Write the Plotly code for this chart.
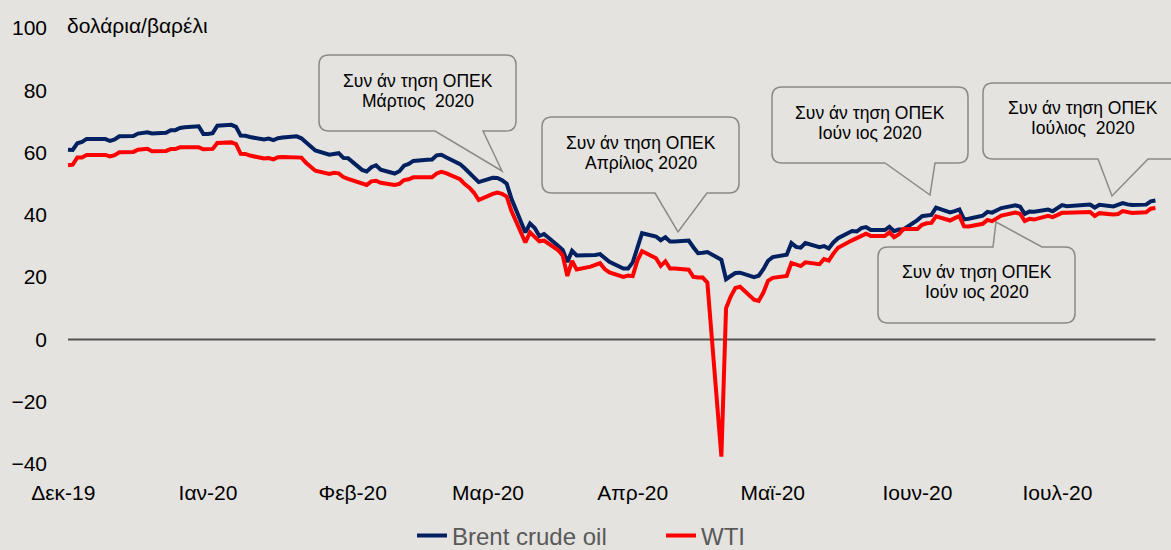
import pandas as pd
import plotly.graph_objects as go

# ---------------- data ----------------
dates = pd.bdate_range("2019-12-02", "2020-07-22")

brent = [
    # Dec 2019
    60.92, 60.82, 62.96, 63.39, 64.39, 64.25, 64.34, 63.72, 64.20, 65.22,
    65.34, 66.10, 66.17, 66.54, 66.14, 66.39, 67.20, 67.20, 67.92, 68.16,
    68.44, 66.00,
    # Jan 2020
    66.00, 66.25, 68.60, 68.91, 68.27, 65.44, 65.37, 64.98, 64.20, 64.49,
    64.00, 64.62, 64.85, 65.20, 64.59, 63.21, 62.04, 60.69, 59.32, 59.51,
    59.81, 58.29, 58.16,
    # Feb 2020
    54.45, 53.96, 55.28, 55.93, 54.47, 53.27, 54.01, 55.79, 56.34, 57.32,
    57.67, 57.75, 59.12, 59.31, 58.50, 56.30, 54.95, 53.43, 52.18, 50.52,
    # Mar 2020
    51.90, 51.86, 51.13, 49.99, 45.27, 34.36, 37.22, 35.79, 33.22, 33.85,
    30.05, 28.73, 24.88, 28.47, 26.98, 27.03, 27.15, 27.39, 26.34, 24.93,
    22.76, 22.74,
    # Apr 2020
    24.74, 29.94, 34.11, 33.05, 31.87, 32.84, 31.48, 31.48, 31.74, 29.60,
    27.69, 27.82, 28.08, 25.57, 19.33, 20.37, 21.33, 21.44, 19.99, 20.46,
    22.54, 25.27,
    # May 2020
    26.44, 27.20, 30.97, 29.72, 29.46, 30.97, 29.63, 29.98, 29.19, 31.13,
    32.50, 34.81, 34.65, 35.75, 36.06, 35.13, 35.13, 36.17, 34.74, 35.29,
    35.33,
    # Jun 2020
    38.32, 39.57, 39.79, 39.99, 42.30, 40.80, 41.18, 41.73, 38.55, 38.73,
    39.72, 40.96, 40.71, 41.51, 42.19, 43.08, 42.63, 40.31, 41.05, 41.02,
    41.71, 41.15,
    # Jul 2020
    42.03, 43.14, 42.80, 43.10, 43.08, 43.29, 42.35, 43.24, 42.72, 43.23,
    43.79, 43.37, 43.14, 43.28, 44.32, 44.60,
]

wti = [
    # Dec 2019
    55.96, 56.10, 58.43, 58.43, 59.20, 59.02, 59.24, 58.76, 59.18, 60.07,
    60.21, 60.94, 60.93, 61.22, 60.44, 60.52, 61.11, 61.11, 61.68, 61.72,
    61.68, 61.06,
    # Jan 2020
    61.06, 61.18, 63.05, 63.27, 62.70, 59.61, 59.56, 59.04, 58.08, 58.23,
    57.81, 58.52, 58.54, 58.54, 58.38, 56.74, 55.59, 54.19, 53.14, 53.48,
    53.33, 52.14, 51.56,
    # Feb 2020
    50.11, 49.61, 50.75, 50.95, 50.32, 49.57, 49.94, 51.17, 51.42, 52.05,
    52.05, 52.05, 53.29, 53.78, 53.38, 51.43, 49.90, 48.73, 47.09, 44.76,
    # Mar 2020
    46.75, 47.18, 46.78, 45.90, 41.28, 31.13, 34.36, 32.98, 31.50, 31.73,
    28.70, 26.95, 20.37, 25.22, 22.43, 23.36, 24.01, 24.49, 22.60, 21.51,
    20.09, 20.48,
    # Apr 2020
    20.31, 25.32, 28.34, 26.08, 23.63, 25.09, 22.76, 22.76, 22.41, 20.11,
    19.87, 19.87, 18.27, -37.63, 10.01, 13.78, 16.50, 16.94, 12.78, 12.34,
    15.06, 18.84,
    # May 2020
    19.78, 20.39, 24.56, 23.99, 23.55, 24.74, 24.14, 25.78, 25.29, 27.56,
    29.43, 31.82, 32.50, 33.49, 33.92, 33.25, 33.25, 34.35, 32.81, 33.71,
    35.49,
    # Jun 2020
    35.44, 36.81, 37.29, 37.41, 39.55, 38.19, 38.94, 39.60, 36.34, 36.26,
    37.12, 38.38, 37.96, 38.84, 39.75, 40.73, 40.37, 38.01, 38.72, 38.49,
    39.70, 39.27,
    # Jul 2020
    39.82, 40.65, 40.65, 40.63, 40.62, 40.90, 39.62, 40.55, 40.10, 40.29,
    41.20, 40.75, 40.59, 40.81, 41.96, 42.20,
]

month_ticks = ["2019-12-01", "2020-01-01", "2020-02-01", "2020-03-01",
               "2020-04-01", "2020-05-01", "2020-06-01", "2020-07-01"]
month_labels = ["Δεκ-19", "Ιαν-20", "Φεβ-20", "Μαρ-20",
                "Απρ-20", "Μαϊ-20", "Ιουν-20", "Ιουλ-20"]
y_ticks = [-40, -20, 0, 20, 40, 60, 80, 100]

series_names = ["Brent crude oil", "WTI"]
unit_label = "δολάρια/βαρέλι"

callout_line1 = ["Συν άν τηση ΟΠΕΚ"] * 5
callout_line2 = ["Μάρτιος  2020", "Απρίλιος 2020", "Ιούν ιος 2020",
                 "Ιούλιος  2020", "Ιούν ιος 2020"]

# ---------------- layout geometry (pixels) ----------------
W, H = 1171, 550
L, R, T, B = 62, 15, 28, 86
PW, PH = W - L - R, H - T - B
PX_PER_DAY = 4.667
n = min(len(dates), len(brent), len(wti))
dates = dates[:n]
x_start = dates[0] - pd.Timedelta(days=(68 - L) / PX_PER_DAY)
x_end = x_start + pd.Timedelta(days=PW / PX_PER_DAY)


def px(x):
    return (x - L) / PW


def py(y):
    return (H - B - y) / PH


BG = "#e4e3df"
FONT = "Liberation Sans, Arial, sans-serif"

fig = go.Figure()
fig.add_trace(go.Scatter(x=dates, y=brent[:n], mode="lines", name=series_names[0],
                         line=dict(color="#002060", width=4)))
fig.add_trace(go.Scatter(x=dates, y=wti[:n], mode="lines", name=series_names[1],
                         line=dict(color="#ff0000", width=4)))

# zero line
fig.add_shape(type="line", xref="x", yref="y", x0=dates[0], x1=dates[-1], y0=0, y1=0,
              line=dict(color="#555555", width=2), layer="below")


def bubble(x0, y0, x1, y1, a, b, tip, side="bottom", r=10):
    pts = []

    def P(cmd, *xy):
        coords = []
        for i in range(0, len(xy), 2):
            coords.append(f"{px(xy[i]):.5f},{py(xy[i+1]):.5f}")
        pts.append(cmd + " ".join(coords))
    P("M", x0 + r, y0)
    if side == "top":
        P("L", a, y0); P("L", tip[0], tip[1]); P("L", b, y0)
    P("L", x1 - r, y0)
    P("Q", x1, y0, x1, y0 + r)
    P("L", x1, y1 - r)
    P("Q", x1, y1, x1 - r, y1)
    if side == "bottom":
        P("L", b, y1); P("L", tip[0], tip[1]); P("L", a, y1)
    P("L", x0 + r, y1)
    P("Q", x0, y1, x0, y1 - r)
    P("L", x0, y0 + r)
    P("Q", x0, y0, x0 + r, y0)
    return " ".join(pts) + " Z"


boxes = [
    dict(box=(319, 55, 516, 131), a=435, b=483, tip=(502, 171), side="bottom", cx=418, ly=(81, 101)),
    dict(box=(542, 117, 739, 193), a=655, b=707, tip=(678, 232), side="bottom", cx=641, ly=(143, 163)),
    dict(box=(772, 87, 968, 163), a=885, b=935, tip=(930, 195), side="bottom", cx=870, ly=(113, 133)),
    dict(box=(983, 83, 1183, 159), a=1098, b=1148, tip=(1112, 196), side="bottom", cx=1083, ly=(108, 128)),
    dict(box=(878, 247, 1075, 323), a=993, b=1042, tip=(996, 222), side="top", cx=977, ly=(272, 292)),
]

annotations = []
for i, bx in enumerate(boxes):
    x0, y0, x1, y1 = bx["box"]
    fig.add_shape(type="path", xref="paper", yref="paper",
                  path=bubble(x0, y0, x1, y1, bx["a"], bx["b"], bx["tip"], bx["side"]),
                  line=dict(color="#8a8a8a", width=1.5), fillcolor=BG, layer="below")
    for txt, yy in zip((callout_line1[i], callout_line2[i]), bx["ly"]):
        annotations.append(dict(xref="paper", yref="paper", x=px(bx["cx"]), y=py(yy),
                                xanchor="center", yanchor="middle", showarrow=False,
                                text=txt, font=dict(size=17.5, color="#000000", family=FONT)))

annotations.append(dict(xref="paper", yref="paper", x=px(65), y=py(26),
                        xanchor="left", yanchor="middle", showarrow=False,
                        text=unit_label, font=dict(size=21, color="#000000", family=FONT)))

fig.update_layout(
    width=W, height=H,
    margin=dict(l=L, r=R, t=T, b=B, autoexpand=False),
    paper_bgcolor=BG, plot_bgcolor=BG,
    font=dict(family=FONT, color="#000000"),
    showlegend=True,
    legend=dict(orientation="h", x=px(412), y=py(536), xanchor="left", yanchor="middle",
                font=dict(size=24, color="#595959", family=FONT),
                bgcolor="rgba(0,0,0,0)", entrywidth=204, entrywidthmode="pixels"),
    annotations=annotations,
    xaxis=dict(type="date",
               range=[x_start.strftime("%Y-%m-%d %H:%M:%S"), x_end.strftime("%Y-%m-%d %H:%M:%S")],
               tickvals=month_ticks, ticktext=month_labels, showgrid=False, zeroline=False,
               showline=False, ticks="", tickfont=dict(size=21, color="#000000"),
               ticklabelstandoff=14),
    yaxis=dict(range=[-40, 100], tickvals=y_ticks, showgrid=False, zeroline=False,
               showline=False, ticks="", tickfont=dict(size=21, color="#000000"),
               ticklabelstandoff=14),
)

fig.write_html("out.html", config={"displayModeBar": False},
               post_script="document.body.style.margin='0';document.body.style.background='%s';" % BG)
